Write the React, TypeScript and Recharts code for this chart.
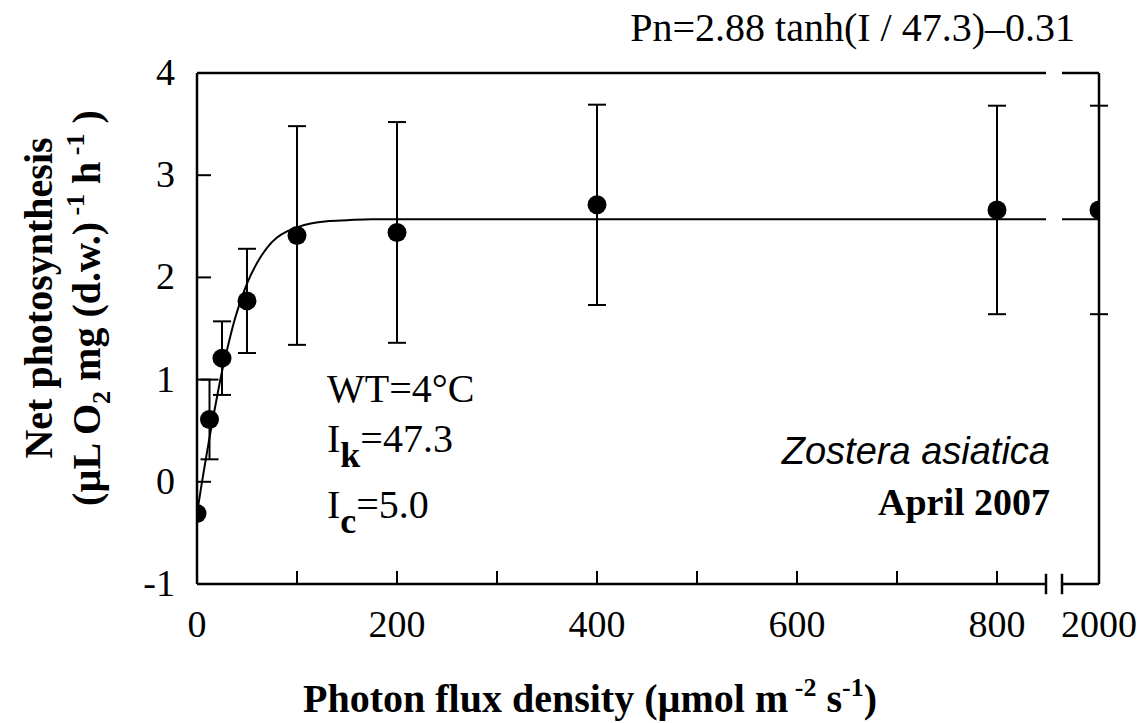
import {
  ComposedChart,
  ErrorBar,
  Line,
  ReferenceLine,
  Scatter,
  XAxis,
  YAxis,
} from "recharts";

// measured light levels (µmol m-2 s-1) and net photosynthesis, mean ± SD
const LIGHT = [0, 12.5, 25, 50, 100, 200, 400, 800, 2000];
const NET_PN = [-0.31, 0.61, 1.21, 1.77, 2.41, 2.44, 2.71, 2.66, 2.66];
const PN_SD = [0, 0.39, 0.36, 0.51, 1.07, 1.08, 0.98, 1.02, 1.02];

// fitted curve (left of the axis break)
const FIT_LIGHT = [0, 5, 10, 15, 20, 25, 30, 37.5, 45, 50, 60, 70, 80, 90, 100, 115, 130, 150, 175, 200, 849];
const FIT_PN = [-0.31, 0.0, 0.29, 0.57, 0.83, 1.08, 1.29, 1.58, 1.81, 1.94, 2.14, 2.29, 2.39, 2.45, 2.49, 2.53, 2.55, 2.56, 2.57, 2.57, 2.57];
const FIT_PLATEAU = 2.57;

const X_TICKS = [0, 100, 200, 300, 400, 500, 600, 700, 800, 2000];
const Y_TICKS = [-1, 0, 1, 2, 3, 4];

// broken x axis: 0–850 linear, then 2000 drawn just after the gap
const BREAK_LEFT = 849;
const BREAK_RIGHT = 865;
const POS_2000 = 902;
const toAxis = (v: number) => (v >= 1000 ? POS_2000 : v);

const W = 1139;
const H = 723;
const PLOT_LEFT = 197;
const PLOT_TOP = 73;
const PLOT_RIGHT = 1099;
const PLOT_BOTTOM = 584;
const Y_AXIS_W = 60;
const X_AXIS_H = 60;

const SERIF = "Liberation Serif, Times New Roman, serif";

const points = LIGHT.map((l, i) => ({ x: toAxis(l), y: NET_PN[i], err: PN_SD[i] }));
const fitLeft = FIT_LIGHT.map((l, i) => ({ x: l, y: FIT_PN[i] }));
const fitRight = [
  { x: BREAK_RIGHT, y: FIT_PLATEAU },
  { x: toAxis(2000), y: FIT_PLATEAU },
];

function YTick(props: any) {
  const { y, payload } = props;
  return (
    <g>
      <line x1={PLOT_LEFT} x2={PLOT_LEFT + 14} y1={y} y2={y} stroke="#000" strokeWidth={2} />
      <text
        x={PLOT_LEFT - 22}
        y={y + 12}
        textAnchor="end"
        fontSize={38}
        style={{ fontFamily: SERIF }}
        fill="#000"
      >
        {payload.value}
      </text>
    </g>
  );
}

function XTick(props: any) {
  const { x, payload } = props;
  const v = payload.value as number;
  const label = v === POS_2000 ? "2000" : v % 200 === 0 ? String(v) : "";
  return (
    <g>
      {v !== POS_2000 && (
        <line x1={x} x2={x} y1={PLOT_BOTTOM} y2={PLOT_BOTTOM - 13} stroke="#000" strokeWidth={2} />
      )}
      <text
        x={x}
        y={PLOT_BOTTOM + 53}
        textAnchor="middle"
        fontSize={38}
        style={{ fontFamily: SERIF }}
        fill="#000"
      >
        {label}
      </text>
    </g>
  );
}

const frame = { stroke: "#000", strokeWidth: 2.5, ifOverflow: "visible" as const };

export default function App() {
  return (
    <div style={{ position: "relative", width: W, height: H }}>
      <style>{"body { margin: 0; }"}</style>
      <ComposedChart
        width={W}
        height={H}
        margin={{
          top: PLOT_TOP,
          right: W - PLOT_RIGHT,
          left: PLOT_LEFT - Y_AXIS_W,
          bottom: H - PLOT_BOTTOM - X_AXIS_H,
        }}
      >
        <XAxis
          dataKey="x"
          type="number"
          domain={[0, POS_2000]}
          allowDataOverflow
          ticks={X_TICKS.map(toAxis)}
          interval={0}
          tick={<XTick />}
          tickLine={false}
          axisLine={false}
          height={X_AXIS_H}
        />
        <YAxis
          dataKey="y"
          type="number"
          domain={[-1, 4]}
          allowDataOverflow
          ticks={Y_TICKS}
          interval={0}
          tick={<YTick />}
          tickLine={false}
          axisLine={{ stroke: "#000", strokeWidth: 2.5 }}
          width={Y_AXIS_W}
        />

        {/* plot frame with the axis break */}
        <ReferenceLine segment={[{ x: 0, y: -1 }, { x: BREAK_LEFT, y: -1 }]} {...frame} />
        <ReferenceLine segment={[{ x: BREAK_RIGHT, y: -1 }, { x: POS_2000, y: -1 }]} {...frame} />
        <ReferenceLine segment={[{ x: 0, y: 4 }, { x: BREAK_LEFT, y: 4 }]} {...frame} />
        <ReferenceLine segment={[{ x: BREAK_RIGHT, y: 4 }, { x: POS_2000, y: 4 }]} {...frame} />
        <ReferenceLine segment={[{ x: POS_2000, y: -1 }, { x: POS_2000, y: 4 }]} {...frame} />
        <ReferenceLine segment={[{ x: BREAK_LEFT, y: -1.1 }, { x: BREAK_LEFT, y: -0.9 }]} {...frame} />
        <ReferenceLine segment={[{ x: BREAK_RIGHT, y: -1.1 }, { x: BREAK_RIGHT, y: -0.9 }]} {...frame} />

        <Line
          data={fitLeft}
          dataKey="y"
          type="monotone"
          dot={false}
          activeDot={false}
          stroke="#000"
          strokeWidth={2}
          isAnimationActive={false}
        />
        <Line
          data={fitRight}
          dataKey="y"
          type="linear"
          dot={false}
          activeDot={false}
          stroke="#000"
          strokeWidth={2}
          isAnimationActive={false}
        />
        <Scatter
          data={points}
          isAnimationActive={false}
          shape={(p: any) => <circle cx={p.cx} cy={p.cy} r={9.5} fill="#000" />}
        >
          <ErrorBar dataKey="err" direction="y" width={9} stroke="#000" strokeWidth={2} />
        </Scatter>
      </ComposedChart>

      <svg
        width={W}
        height={H}
        style={{ position: "absolute", left: 0, top: 0, pointerEvents: "none", overflow: "visible", fontFamily: SERIF }}
        fill="#000"
      >
        <text x={1075} y={41} fontSize={40} textAnchor="end">
          Pn=2.88 tanh(I / 47.3)–0.31
        </text>

        <text x={327} y={402} fontSize={40}>
          WT=4°C
        </text>
        <text x={327} y={452} fontSize={40}>
          I
          <tspan fontSize={36} fontWeight="bold" dy={15}>k</tspan>
          <tspan dy={-15}>=47.3</tspan>
        </text>
        <text x={327} y={518} fontSize={40}>
          I
          <tspan fontSize={36} fontWeight="bold" dy={15}>c</tspan>
          <tspan dy={-15}>=5.0</tspan>
        </text>

        <text
          x={1050}
          y={464}
          fontSize={38}
          textAnchor="end"
          fontStyle="italic"
          fontWeight={300}
          style={{ fontFamily: "Liberation Sans, sans-serif" }}
        >
          Zostera asiatica
        </text>
        <text x={1050} y={515} fontSize={38} textAnchor="end" fontWeight="bold">
          April 2007
        </text>

        <text
          transform="translate(52 298) rotate(-90)"
          textAnchor="middle"
          fontSize={40}
          fontWeight="bold"
        >
          Net photosynthesis
        </text>
        <text
          transform="translate(100 308) rotate(-90)"
          textAnchor="middle"
          fontSize={40}
          fontWeight="bold"
        >
          (µL O<tspan fontSize={26} dy={10}>2</tspan>
          <tspan dy={-10}>{"  mg (d.w.)"}</tspan>
          <tspan fontSize={26} dy={-16}>{" -1"}</tspan>
          <tspan dy={16}>{"  h"}</tspan>
          <tspan fontSize={26} dy={-16}>{" -1"}</tspan>
          <tspan dy={16}>{" )"}</tspan>
        </text>

        <text x={590} y={712} textAnchor="middle" fontSize={40} fontWeight="bold">
          Photon flux density (µmol m<tspan fontSize={26} dy={-16}>{" -2"}</tspan>
          <tspan dy={16}>{"  s"}</tspan>
          <tspan fontSize={26} dy={-16}>-1</tspan>
          <tspan dy={16}>)</tspan>
        </text>
      </svg>
    </div>
  );
}
